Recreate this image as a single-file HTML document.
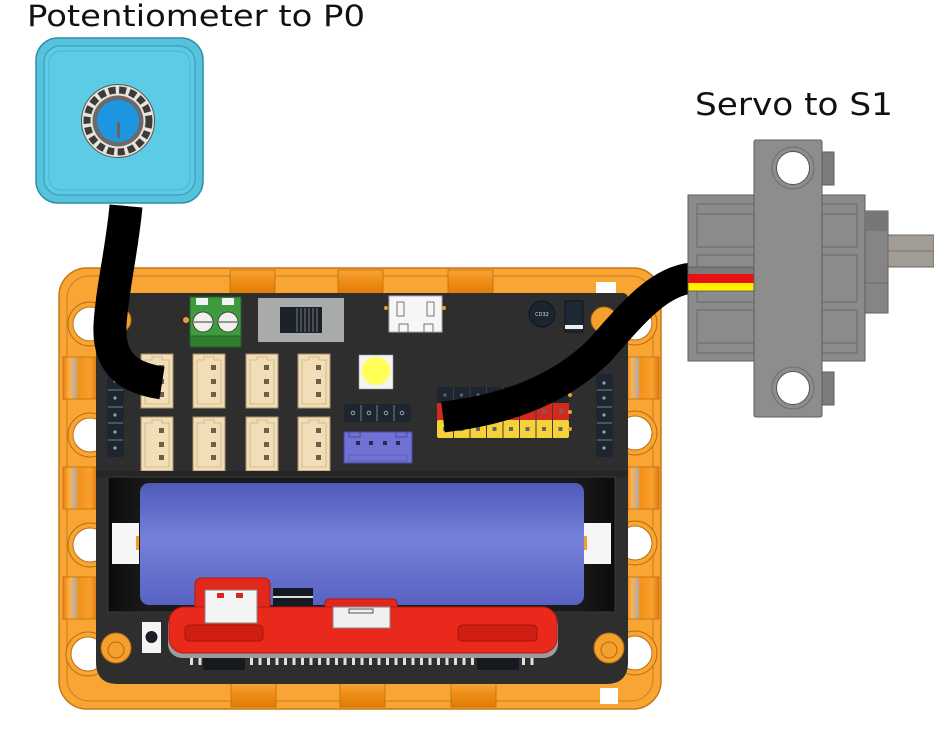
<!DOCTYPE html>
<html><head><meta charset="utf-8"><style>
html,body{margin:0;padding:0;background:#fff;}
svg{display:block;}
</style></head><body>
<svg width="934" height="745" viewBox="0 0 934 745" xmlns="http://www.w3.org/2000/svg">
<defs>
<linearGradient id="bat" x1="0" y1="0" x2="0" y2="1">
<stop offset="0" stop-color="#5059b8"/>
<stop offset="0.45" stop-color="#7581d9"/>
<stop offset="1" stop-color="#5862c2"/>
</linearGradient>
<linearGradient id="cylv" x1="0" y1="0" x2="1" y2="0">
<stop offset="0" stop-color="#e8820c"/>
<stop offset="0.2" stop-color="#ffb14a"/>
<stop offset="0.35" stop-color="#b8b0a6"/>
<stop offset="0.45" stop-color="#f39118"/>
<stop offset="0.8" stop-color="#f7a030"/>
<stop offset="1" stop-color="#e07a08"/>
</linearGradient>
<linearGradient id="cylh" x1="0" y1="0" x2="0" y2="1">
<stop offset="0" stop-color="#f7a43a"/>
<stop offset="0.5" stop-color="#ee8c14"/>
<stop offset="1" stop-color="#e07c08"/>
</linearGradient>
<linearGradient id="hold" x1="0" y1="0" x2="1" y2="0">
<stop offset="0" stop-color="#0c0c0c"/>
<stop offset="0.08" stop-color="#1a1a1a"/>
<stop offset="0.92" stop-color="#1a1a1a"/>
<stop offset="1" stop-color="#0c0c0c"/>
</linearGradient>
</defs>

<!-- Labels -->
<text x="27" y="26" font-family="DejaVu Sans, Liberation Sans, sans-serif" font-size="29" fill="#111" textLength="338" lengthAdjust="spacingAndGlyphs">Potentiometer to P0</text>
<text x="695" y="115" font-family="DejaVu Sans, Liberation Sans, sans-serif" font-size="31" fill="#111" textLength="198" lengthAdjust="spacingAndGlyphs">Servo to S1</text>

<!-- Potentiometer module -->
<rect x="36" y="38" width="167" height="165" rx="22" fill="#56c2dd" stroke="#2f8fa8" stroke-width="1.5"/>
<rect x="44" y="46" width="151" height="149" rx="16" fill="#5ccbe5" stroke="#3c9fb8" stroke-width="1.2"/>
<rect x="49" y="51" width="141" height="139" rx="12" fill="none" stroke="#4bb4cf" stroke-width="1"/>
<circle cx="118" cy="121" r="36.5" fill="#e9e4da" stroke="#555" stroke-width="1"/>
<circle cx="118" cy="121" r="31" fill="none" stroke="#3b3b3b" stroke-width="7" stroke-dasharray="7 3.5"/>
<circle cx="118" cy="121" r="25.5" fill="#6a6a6a"/>
<circle cx="118" cy="121" r="21" fill="#1d96e2"/>
<rect x="117" y="122" width="3" height="16" fill="#666"/>

<!-- Orange frame -->
<rect x="59" y="268" width="602" height="441" rx="28" fill="#f8a534" stroke="#c47818" stroke-width="1.5"/>
<rect x="67" y="276" width="586" height="425" rx="22" fill="none" stroke="#c98020" stroke-width="1"/>
<!-- top cylinders -->
<rect x="230" y="270" width="45" height="24" fill="url(#cylh)" stroke="#c06c08" stroke-width="0.8"/>
<rect x="338" y="270" width="45" height="24" fill="url(#cylh)" stroke="#c06c08" stroke-width="0.8"/>
<rect x="448" y="270" width="45" height="24" fill="url(#cylh)" stroke="#c06c08" stroke-width="0.8"/>
<rect x="596" y="282" width="20" height="12" fill="#fff"/>
<!-- bottom cylinders -->
<rect x="231" y="683" width="45" height="24" fill="url(#cylh)" stroke="#c06c08" stroke-width="0.8"/>
<rect x="340" y="683" width="45" height="24" fill="url(#cylh)" stroke="#c06c08" stroke-width="0.8"/>
<rect x="451" y="683" width="45" height="24" fill="url(#cylh)" stroke="#c06c08" stroke-width="0.8"/>
<rect x="600" y="688" width="18" height="16" fill="#fff"/>
<!-- side cylinders -->
<rect x="63" y="357" width="34" height="42" fill="url(#cylv)" stroke="#c06c08" stroke-width="0.8"/>
<rect x="63" y="467" width="34" height="42" fill="url(#cylv)" stroke="#c06c08" stroke-width="0.8"/>
<rect x="63" y="577" width="34" height="42" fill="url(#cylv)" stroke="#c06c08" stroke-width="0.8"/>
<rect x="625" y="357" width="34" height="42" fill="url(#cylv)" stroke="#c06c08" stroke-width="0.8"/>
<rect x="625" y="467" width="34" height="42" fill="url(#cylv)" stroke="#c06c08" stroke-width="0.8"/>
<rect x="625" y="577" width="34" height="42" fill="url(#cylv)" stroke="#c06c08" stroke-width="0.8"/>
<!-- holes -->
<g stroke="#b86e10" stroke-width="1">
<circle cx="90" cy="324" r="22" fill="#f8a534"/><circle cx="90" cy="324" r="17" fill="#fff"/>
<circle cx="90" cy="435" r="22" fill="#f8a534"/><circle cx="90" cy="435" r="17" fill="#fff"/>
<circle cx="90" cy="545" r="22" fill="#f8a534"/><circle cx="90" cy="545" r="17" fill="#fff"/>
<circle cx="88" cy="654" r="22" fill="#f8a534"/><circle cx="88" cy="654" r="17" fill="#fff"/>
<circle cx="635" cy="323" r="22" fill="#f8a534"/><circle cx="635" cy="323" r="17" fill="#fff"/>
<circle cx="635" cy="433" r="22" fill="#f8a534"/><circle cx="635" cy="433" r="17" fill="#fff"/>
<circle cx="635" cy="543" r="22" fill="#f8a534"/><circle cx="635" cy="543" r="17" fill="#fff"/>
<circle cx="635" cy="653" r="22" fill="#f8a534"/><circle cx="635" cy="653" r="17" fill="#fff"/>
</g>

<!-- Board -->
<path d="M102 293 H622 Q628 293 628 299 V662 Q628 684 606 684 H118 Q96 684 96 662 V299 Q96 293 102 293 Z" fill="#2e2e2e"/>
<!-- corner mount pads -->
<circle cx="118" cy="320" r="13" fill="#f3a02e" stroke="#b36a10"/>
<circle cx="604" cy="320" r="13" fill="#f3a02e" stroke="#b36a10"/>
<circle cx="116" cy="648" r="15" fill="#f3a02e" stroke="#b36a10"/>
<circle cx="116" cy="650" r="8" fill="none" stroke="#b36a10"/>
<circle cx="609" cy="648" r="15" fill="#f3a02e" stroke="#b36a10"/>
<circle cx="609" cy="650" r="8" fill="none" stroke="#b36a10"/>

<!-- Terminal block -->
<rect x="190" y="297" width="51" height="50" fill="#3e9c3e" stroke="#24602a"/>
<rect x="190" y="336" width="51" height="11" fill="#2f7f2f" stroke="#24602a"/>
<rect x="196" y="298" width="12" height="7" fill="#f4f4f4"/>
<rect x="222" y="298" width="12" height="7" fill="#f4f4f4"/>
<circle cx="203" cy="322" r="10" fill="#f2f0ea" stroke="#444"/>
<circle cx="228" cy="322" r="10" fill="#f2f0ea" stroke="#444"/>
<line x1="194" y1="322" x2="212" y2="322" stroke="#777" stroke-width="1.5"/>
<line x1="219" y1="322" x2="237" y2="322" stroke="#777" stroke-width="1.5"/>
<circle cx="186" cy="320" r="3" fill="#f0a030"/>

<!-- Switch -->
<rect x="258" y="298" width="86" height="44" fill="#a9abaa"/>
<rect x="280" y="307" width="42" height="26" fill="#1b2128"/>
<g stroke="#6a6e72" stroke-width="1.2">
<line x1="297" y1="308" x2="297" y2="332"/><line x1="301" y1="308" x2="301" y2="332"/><line x1="305" y1="308" x2="305" y2="332"/><line x1="309" y1="308" x2="309" y2="332"/><line x1="313" y1="308" x2="313" y2="332"/><line x1="317" y1="308" x2="317" y2="332"/>
</g>

<!-- Micro USB -->
<rect x="389" y="296" width="53" height="36" fill="#f6f6f6" stroke="#aaa"/>
<rect x="397" y="302" width="7" height="14" fill="none" stroke="#777"/>
<rect x="427" y="302" width="7" height="14" fill="none" stroke="#777"/>
<path d="M399 332 V324 H408 V332 M424 332 V324 H433 V332" fill="none" stroke="#777"/>
<circle cx="386" cy="308" r="2" fill="#f0a030"/><circle cx="444" cy="308" r="2" fill="#f0a030"/>

<!-- Inductor & diode -->
<circle cx="542" cy="314" r="13" fill="#1a2530" stroke="#0e141a"/>
<text x="542" y="316" font-family="DejaVu Sans, sans-serif" font-size="5" fill="#ddd" text-anchor="middle">CD32</text>
<rect x="565" y="301" width="18" height="31" fill="#1d2a35" stroke="#0e141a"/>
<rect x="565" y="325" width="18" height="4" fill="#eee"/>

<!-- Cream connectors -->
<g id="cc">
<g fill="#f1ddb6" stroke="#a8906a" stroke-width="1">
<rect x="141" y="354" width="32" height="54"/><rect x="193" y="354" width="32" height="54"/><rect x="246" y="354" width="32" height="54"/><rect x="298" y="354" width="32" height="54"/>
<rect x="141" y="417" width="32" height="54"/><rect x="193" y="417" width="32" height="54"/><rect x="246" y="417" width="32" height="54"/><rect x="298" y="417" width="32" height="54"/>
</g>
<g fill="none" stroke="#c9b28a" stroke-width="0.8">
<path d="M145 360 H152 V357 H162 V360 H169 V404 H145 Z"/><path d="M197 360 H204 V357 H214 V360 H221 V404 H197 Z"/><path d="M250 360 H257 V357 H267 V360 H274 V404 H250 Z"/><path d="M302 360 H309 V357 H319 V360 H326 V404 H302 Z"/>
<path d="M145 423 H152 V420 H162 V423 H169 V467 H145 Z"/><path d="M197 423 H204 V420 H214 V423 H221 V467 H197 Z"/><path d="M250 423 H257 V420 H267 V423 H274 V467 H250 Z"/><path d="M302 423 H309 V420 H319 V423 H326 V467 H302 Z"/>
</g>
<g fill="#6b5d48">
<rect x="159" y="365" width="5" height="5"/><rect x="159" y="379" width="5" height="5"/><rect x="159" y="392" width="5" height="5"/>
<rect x="211" y="365" width="5" height="5"/><rect x="211" y="379" width="5" height="5"/><rect x="211" y="392" width="5" height="5"/>
<rect x="264" y="365" width="5" height="5"/><rect x="264" y="379" width="5" height="5"/><rect x="264" y="392" width="5" height="5"/>
<rect x="316" y="365" width="5" height="5"/><rect x="316" y="379" width="5" height="5"/><rect x="316" y="392" width="5" height="5"/>
<rect x="159" y="428" width="5" height="5"/><rect x="159" y="442" width="5" height="5"/><rect x="159" y="455" width="5" height="5"/>
<rect x="211" y="428" width="5" height="5"/><rect x="211" y="442" width="5" height="5"/><rect x="211" y="455" width="5" height="5"/>
<rect x="264" y="428" width="5" height="5"/><rect x="264" y="442" width="5" height="5"/><rect x="264" y="455" width="5" height="5"/>
<rect x="316" y="428" width="5" height="5"/><rect x="316" y="442" width="5" height="5"/><rect x="316" y="455" width="5" height="5"/>
</g>
</g>

<!-- Left vertical header -->
<rect x="107" y="373" width="17" height="84" rx="2" fill="#1c2530"/>
<g stroke="#7a8088" stroke-width="1"><line x1="108" y1="390" x2="123" y2="390"/><line x1="108" y1="407" x2="123" y2="407"/><line x1="108" y1="423" x2="123" y2="423"/><line x1="108" y1="440" x2="123" y2="440"/></g>
<g fill="#9aa0a6"><circle cx="115" cy="381" r="1.6"/><circle cx="115" cy="398" r="1.6"/><circle cx="115" cy="415" r="1.6"/><circle cx="115" cy="432" r="1.6"/><circle cx="115" cy="448" r="1.6"/></g>
<!-- Right vertical header -->
<rect x="596" y="374" width="17" height="83" rx="2" fill="#1c2530"/>
<g stroke="#7a8088" stroke-width="1"><line x1="597" y1="390" x2="612" y2="390"/><line x1="597" y1="407" x2="612" y2="407"/><line x1="597" y1="423" x2="612" y2="423"/><line x1="597" y1="440" x2="612" y2="440"/></g>
<g fill="#9aa0a6"><circle cx="604" cy="383" r="1.6"/><circle cx="604" cy="398" r="1.6"/><circle cx="604" cy="415" r="1.6"/><circle cx="604" cy="432" r="1.6"/><circle cx="604" cy="448" r="1.6"/></g>

<!-- LED -->
<rect x="359" y="355" width="34" height="34" fill="#f4f4f0" stroke="#999" stroke-width="0.6"/>
<circle cx="376" cy="371" r="14" fill="#ffff55"/>

<!-- 4 pin header -->
<rect x="344" y="404" width="67" height="18" rx="2" fill="#1c2530"/>
<g stroke="#7a8088"><line x1="361" y1="405" x2="361" y2="421"/><line x1="377" y1="405" x2="377" y2="421"/><line x1="394" y1="405" x2="394" y2="421"/></g>
<g fill="none" stroke="#9aa0a6"><circle cx="353" cy="413" r="1.8"/><circle cx="369" cy="413" r="1.8"/><circle cx="386" cy="413" r="1.8"/><circle cx="402" cy="413" r="1.8"/></g>

<!-- Purple connector -->
<rect x="344" y="432" width="68" height="31" fill="#6f72d4" stroke="#4a4ca0"/>
<path d="M349 432 V437 H360 V432 M396 432 V437 H407 V432" fill="none" stroke="#4a4ca0"/>
<rect x="349" y="455" width="58" height="6" fill="none" stroke="#5a5cb8"/>
<g fill="#2a2a50"><rect x="356" y="441" width="4" height="4"/><rect x="369" y="441" width="4" height="4"/><rect x="383" y="441" width="4" height="4"/><rect x="396" y="441" width="4" height="4"/></g>

<!-- 3 row header -->
<g>
<rect x="437" y="387" width="132" height="16" fill="#1c2530"/>
<rect x="437" y="403" width="132" height="17" fill="#d42a1c"/>
<rect x="437" y="420" width="132" height="18" rx="2" fill="#f6d238"/>
<g stroke="#3a3f46" stroke-width="1">
<line x1="453.5" y1="387" x2="453.5" y2="438"/><line x1="470" y1="387" x2="470" y2="438"/><line x1="486.5" y1="387" x2="486.5" y2="438"/><line x1="503" y1="387" x2="503" y2="438"/><line x1="519.5" y1="387" x2="519.5" y2="438"/><line x1="536" y1="387" x2="536" y2="438"/><line x1="552.5" y1="387" x2="552.5" y2="438"/>
</g>
<g fill="#666">
<circle cx="445" cy="395" r="1.6"/><circle cx="461.5" cy="395" r="1.6"/><circle cx="478" cy="395" r="1.6"/><circle cx="494.5" cy="395" r="1.6"/><circle cx="511" cy="395" r="1.6"/><circle cx="527.5" cy="395" r="1.6"/><circle cx="544" cy="395" r="1.6"/><circle cx="560.5" cy="395" r="1.6"/>
<rect x="542" y="409" width="4" height="4"/><rect x="559" y="409" width="4" height="4"/><rect x="525" y="409" width="4" height="4"/>
<rect x="443" y="427" width="4" height="4"/><rect x="459.5" y="427" width="4" height="4"/><rect x="476" y="427" width="4" height="4"/><rect x="492.5" y="427" width="4" height="4"/><rect x="509" y="427" width="4" height="4"/><rect x="525.5" y="427" width="4" height="4"/><rect x="542" y="427" width="4" height="4"/><rect x="558.5" y="427" width="4" height="4"/>
</g>
<circle cx="570" cy="395" r="2" fill="#f0a030"/><circle cx="570" cy="412" r="2" fill="#f0a030"/><circle cx="570" cy="429" r="2" fill="#f0a030"/>
</g>

<!-- Battery holder -->
<rect x="96" y="471" width="532" height="6" fill="#262626"/>
<rect x="108" y="477" width="507" height="135" fill="url(#hold)" stroke="#3a3a3a" stroke-width="1"/>
<rect x="140" y="483" width="444" height="122" rx="9" fill="url(#bat)"/>
<rect x="112" y="523" width="27" height="41" fill="#f6f6f6"/>
<rect x="584" y="523" width="27" height="41" fill="#f6f6f6"/>
<rect x="136" y="536" width="3" height="14" fill="#f0a030"/>
<rect x="584" y="536" width="3" height="14" fill="#f0a030"/>

<!-- Small button left -->
<rect x="142" y="622" width="19" height="31" fill="#f4f4f4"/>
<circle cx="151.5" cy="637" r="6" fill="#1a1e24"/>

<!-- Red micro:bit-like part -->
<g fill="#e0e0e0">
<rect x="190" y="657" width="3" height="8"/><rect x="198.5" y="657" width="3" height="8"/><rect x="250" y="657" width="3" height="8"/><rect x="258.5" y="657" width="3" height="8"/><rect x="267" y="657" width="3" height="8"/><rect x="275.5" y="657" width="3" height="8"/><rect x="284" y="657" width="3" height="8"/><rect x="292.5" y="657" width="3" height="8"/><rect x="301" y="657" width="3" height="8"/><rect x="309.5" y="657" width="3" height="8"/><rect x="318" y="657" width="3" height="8"/><rect x="326.5" y="657" width="3" height="8"/><rect x="335" y="657" width="3" height="8"/><rect x="343.5" y="657" width="3" height="8"/><rect x="352" y="657" width="3" height="8"/><rect x="360.5" y="657" width="3" height="8"/><rect x="369" y="657" width="3" height="8"/><rect x="377.5" y="657" width="3" height="8"/><rect x="386" y="657" width="3" height="8"/><rect x="394.5" y="657" width="3" height="8"/><rect x="403" y="657" width="3" height="8"/><rect x="411.5" y="657" width="3" height="8"/><rect x="420" y="657" width="3" height="8"/><rect x="428.5" y="657" width="3" height="8"/><rect x="437" y="657" width="3" height="8"/><rect x="445.5" y="657" width="3" height="8"/><rect x="454" y="657" width="3" height="8"/><rect x="462.5" y="657" width="3" height="8"/><rect x="471" y="657" width="3" height="8"/><rect x="522" y="657" width="3" height="8"/><rect x="530.5" y="657" width="3" height="8"/>
</g>
<rect x="203" y="655" width="42" height="15" rx="2" fill="#151a20"/>
<rect x="203" y="656" width="42" height="2" fill="#eee"/>
<rect x="477" y="655" width="42" height="15" rx="2" fill="#151a20"/>
<rect x="477" y="656" width="42" height="2" fill="#eee"/>
<rect x="168" y="611" width="390" height="47" rx="14" fill="#9c9c9c"/>
<rect x="195" y="578" width="75" height="40" rx="6" fill="#e2281c" stroke="#b01a10"/>
<rect x="273" y="588" width="40" height="22" fill="#151a20"/>
<rect x="273" y="596" width="40" height="2" fill="#ddd"/>
<rect x="325" y="599" width="72" height="14" rx="4" fill="#e2281c" stroke="#b01a10"/>
<rect x="169" y="607" width="388" height="46" rx="15" fill="#e8291c" stroke="#b41a10"/>
<rect x="205" y="590" width="52" height="33" fill="#f4f4f4" stroke="#888"/>
<rect x="217" y="593" width="7" height="5" fill="#d8281c"/>
<rect x="236" y="593" width="7" height="5" fill="#d8281c"/>
<rect x="333" y="607" width="57" height="21" fill="#f0f0f0" stroke="#888"/>
<rect x="349" y="609" width="24" height="4" fill="none" stroke="#555"/>
<rect x="185" y="625" width="78" height="16" rx="4" fill="#cf1e12" stroke="#a51609"/>
<rect x="458" y="625" width="79" height="16" rx="4" fill="#cf1e12" stroke="#a51609"/>

<!-- Pot cable -->
<path d="M126 206 C122 250 112 290 110 325 C108 365 130 378 162 383" fill="none" stroke="#000" stroke-width="33" stroke-linecap="butt"/>

<!-- Servo cable -->
<path d="M443 417 C505 410 560 390 600 350 C635 310 660 281 692 278" fill="none" stroke="#000" stroke-width="31" stroke-linecap="butt"/>

<!-- Servo -->
<rect x="688" y="195" width="177" height="166" fill="#8b8b8b" stroke="#5e5e5e" stroke-width="1"/>
<g fill="none" stroke="#6a6a6a" stroke-width="1">
<rect x="697" y="204" width="160" height="43"/>
<line x1="697" y1="214" x2="857" y2="214"/>
<rect x="697" y="255" width="160" height="47"/>
<rect x="697" y="310" width="160" height="43"/>
<line x1="697" y1="343" x2="857" y2="343"/>
</g>
<rect x="865" y="211" width="23" height="102" fill="#858585" stroke="#5e5e5e"/>
<rect x="865" y="211" width="23" height="20" fill="#777"/>
<line x1="865" y1="283" x2="888" y2="283" stroke="#6a6a6a"/>
<rect x="888" y="235" width="46" height="32" fill="#a29c96" stroke="#6e6862"/>
<line x1="888" y1="251" x2="934" y2="251" stroke="#7a746e"/>
<rect x="688" y="267" width="67" height="24" fill="#7a7a7a"/>
<rect x="688" y="274" width="67" height="9" fill="#ea1010"/>
<rect x="688" y="283" width="67" height="8" fill="#fff000"/>
<rect x="688" y="267" width="67" height="24" fill="none" stroke="#555" stroke-width="0.8"/>
<rect x="822" y="152" width="12" height="33" fill="#7c7c7c" stroke="#5e5e5e"/>
<rect x="822" y="372" width="12" height="33" fill="#7c7c7c" stroke="#5e5e5e"/>
<rect x="754" y="140" width="68" height="277" rx="2" fill="#8d8d8d" stroke="#5e5e5e" stroke-width="1"/>
<circle cx="793" cy="168" r="21" fill="none" stroke="#6e6e6e"/>
<circle cx="793" cy="168" r="16.5" fill="#fff" stroke="#555"/>
<circle cx="793" cy="388" r="21" fill="none" stroke="#6e6e6e"/>
<circle cx="793" cy="388" r="16.5" fill="#fff" stroke="#555"/>
</svg>
</body></html>
